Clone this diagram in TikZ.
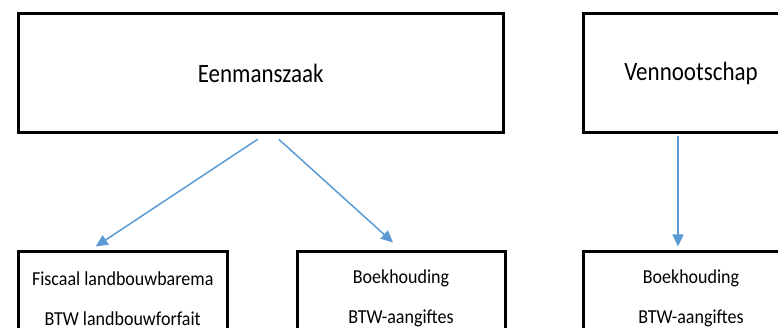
\documentclass[tikz,border=0pt]{standalone}
\usepackage{fontspec}
\setmainfont{Carlito}
\usetikzlibrary{arrows.meta,calc}
\newcommand{\tallA}[1]{\scalebox{1}[1.15]{#1}}
\newcommand{\tallB}[1]{\scalebox{1}[1.1]{#1}}
\begin{document}
\begin{tikzpicture}[x=1pt,y=-1pt,
  topbox/.style={draw=black,line width=3pt,rectangle,inner sep=0pt,
    font=\fontsize{23}{28}\selectfont},
  botbox/.style={draw=black,line width=3pt,rectangle,inner sep=0pt,align=center,
    font=\fontsize{18}{40}\selectfont},
  conn/.style={draw={rgb,255:red,91;green,155;blue,213},line width=1.5pt,
    -{Triangle[width=11pt,length=12pt]}}
]
\clip (0,0) rectangle (778,328);
\fill[white] (0,0) rectangle (778,328);
\node[topbox,minimum width=484.5pt,minimum height=119.5pt] (een) at (260.75,73) {\tallA{Eenmanszaak}};
\node[topbox,minimum width=216pt,minimum height=119.5pt] (venn) at (691,73) {\tallA{Vennootschap}};
\node[botbox,minimum width=208.5pt,minimum height=93pt] (fisc) at (122.75,298.5) {\tallB{Fiscaal landbouwbarema}\\\tallB{BTW landbouwforfait}};
\node[botbox,minimum width=208pt,minimum height=93pt] (boek) at (401,298.5) {\tallB{Boekhouding}\\\tallB{BTW-aangiftes}};
\node[botbox,minimum width=216pt,minimum height=93pt] (boekv) at (691,298.5) {\tallB{Boekhouding}\\\tallB{BTW-aangiftes}};
\draw[conn] ($(een.south)+(-3,5)$) -- ($(fisc.north)+(-27,-4)$);
\draw[conn] ($(een.south)+(18,5)$) -- ($(boek.north)+(-8,-8)$);
\draw[conn] ($(venn.south)+(-13,2)$) -- ($(boekv.north)+(-13,-4)$);
\end{tikzpicture}
\end{document}
